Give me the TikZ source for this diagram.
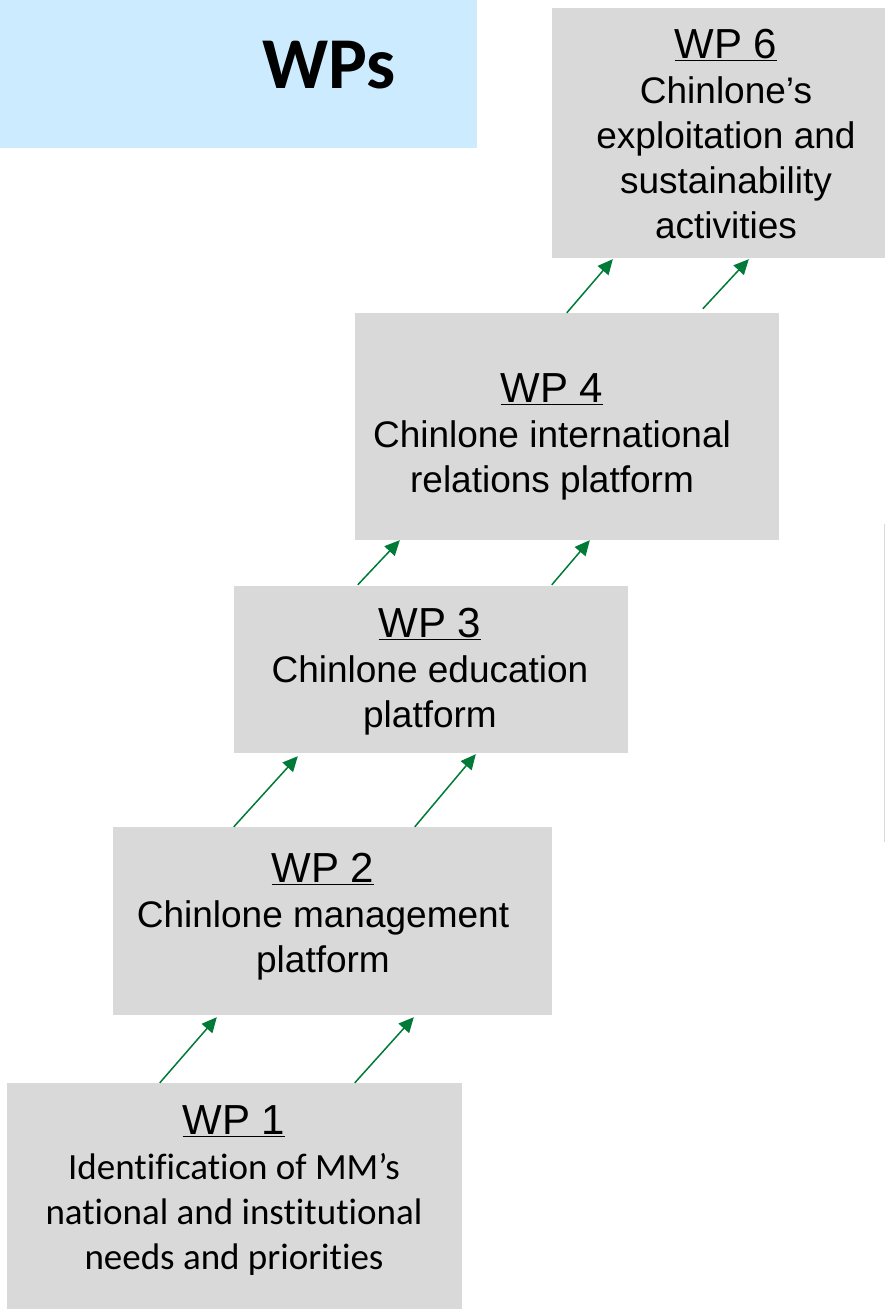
\documentclass[tikz,border=0pt]{standalone}
\usepackage{fontspec}
\setmainfont{Liberation Sans}
\newfontfamily\carlito[Ligatures=NoCommon]{Carlito}
\usetikzlibrary{arrows.meta}
\definecolor{boxgray}{RGB}{217,217,217}
\definecolor{hdrblue}{RGB}{204,235,255}
\definecolor{arrgreen}{RGB}{0,122,55}
\newcommand{\wpline}[1]{{\fontsize{42}{48}\selectfont\underline{#1}}}
\tikzset{
  wpbox/.style={fill=boxgray, draw=none, inner sep=0pt},
  wptext/.style={inner sep=0pt, align=center, font=\fontsize{37}{45}\selectfont},
  arr/.style={draw=arrgreen, line width=1.5pt, -{Triangle[length=15pt,width=14pt]}},
}
\begin{document}
\begin{tikzpicture}[x=1pt,y=-1pt]
\useasboundingbox (0,0) rectangle (885,1309);
\node[fill=hdrblue, inner sep=0pt, minimum width=477pt, minimum height=148pt] (hdr) at (238.5,74) {};
\node[font=\carlito\bfseries\fontsize{73}{80}\selectfont, inner sep=0pt] (hdrt) at (329,65) {WPs};

\node[wpbox, minimum width=333pt, minimum height=250pt] (wp6) at (718.5,133) {};
\node[wptext] (wp6t) at (726,134)
  {\wpline{WP 6}\\Chinlone’s\\exploitation and\\sustainability\\activities};
\node[wpbox, minimum width=424pt, minimum height=227pt] (wp4) at (567,426.5) {};
\node[wptext] (wp4t) at (552,437)
  {\wpline{WP 4}\\Chinlone international\\relations platform};
\node[wpbox, minimum width=394pt, minimum height=167pt] (wp3) at (431,669.5) {};
\node[wptext] (wp3t) at (430,672)
  {\wpline{WP 3}\\Chinlone education\\platform};
\node[wpbox, minimum width=439pt, minimum height=188pt] (wp2) at (332.5,921) {};
\node[wptext] (wp2t) at (323,916.5)
  {\wpline{WP 2}\\Chinlone management\\platform};
\node[wpbox, minimum width=455pt, minimum height=226pt] (wp1) at (234.5,1196) {};
\node[wptext] (wp1t) at (234,1191)
  {\wpline{WP 1}\\{\carlito Identification of MM’s}\\{\carlito national and institutional}\\{\carlito needs and priorities}};

\draw[arr] ([xshift=153pt]wp1.north west) -- ([xshift=104pt,yshift=-2pt]wp2.south west);
\draw[arr] ([xshift=348pt]wp1.north west) -- ([xshift=301pt,yshift=-2pt]wp2.south west);
\draw[arr] ([xshift=121pt]wp2.north west) -- ([xshift=64pt,yshift=-3pt]wp3.south west);
\draw[arr] ([xshift=302pt]wp2.north west) -- ([xshift=242pt,yshift=-1pt]wp3.south west);
\draw[arr] ([xshift=124pt,yshift=1pt]wp3.north west) -- ([xshift=45pt]wp4.south west);
\draw[arr] ([xshift=318pt,yshift=1pt]wp3.north west) -- ([xshift=235pt]wp4.south west);
\draw[arr] ([xshift=212pt]wp4.north west) -- ([xshift=61pt,yshift=-1pt]wp6.south west);
\draw[arr] ([xshift=348pt,yshift=4pt]wp4.north west) -- ([xshift=197pt,yshift=-1pt]wp6.south west);

\draw[draw=black!15, line width=1pt] (884,524) -- (884,842);
\end{tikzpicture}
\end{document}
